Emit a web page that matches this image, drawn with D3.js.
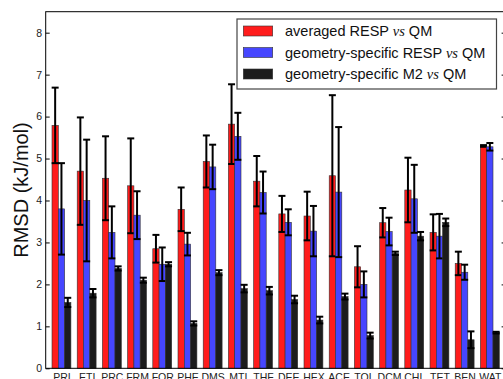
<!DOCTYPE html>
<html>
<head>
<meta charset="utf-8">
<script src="https://cdn.jsdelivr.net/npm/d3@7"></script>
<style>
  html, body { margin: 0; padding: 0; background: #fff; overflow: hidden; }
  svg { display: block; font-family: "Liberation Sans", Arial, sans-serif; }
</style>
</head>
<body>
<svg id="chart" width="503" height="379"></svg>
<script>
// Molecules on the x axis
const categories = ["PRI", "ETI", "PRC", "FRM", "FOR", "PHE", "DMS", "MTI", "THF",
                    "DEE", "HEX", "ACE", "TOL", "DCM", "CHL", "TET", "BEN", "WAT"];

// RMSD (kJ/mol) and standard deviations for each charge model
const avgResp    = [5.79, 4.70, 4.53, 4.35, 2.85, 3.79, 4.93, 5.82, 4.46,
                    3.68, 3.63, 4.59, 2.42, 3.47, 4.25, 3.24, 2.50, 5.30];
const avgRespErr = [0.90, 1.28, 1.00, 1.13, 0.33, 0.52, 0.62, 0.95, 0.60,
                    0.43, 0.58, 1.92, 0.49, 0.35, 0.77, 0.43, 0.28, 0.02];

const geoResp    = [3.80, 4.00, 3.24, 3.65, 2.48, 2.96, 4.80, 5.53, 4.19,
                    3.48, 3.27, 4.20, 2.00, 3.26, 4.04, 3.15, 2.29, 5.28];
const geoRespErr = [1.09, 1.45, 0.62, 0.57, 0.40, 0.27, 0.53, 0.56, 0.50,
                    0.31, 0.60, 1.55, 0.31, 0.33, 0.81, 0.53, 0.18, 0.09];

const geoM2      = [1.57, 1.79, 2.38, 2.10, 2.48, 1.07, 2.28, 1.90, 1.85,
                    1.64, 1.15, 1.71, 0.78, 2.74, 3.15, 3.48, 0.68, 0.85];
const geoM2Err   = [0.11, 0.10, 0.05, 0.06, 0.05, 0.05, 0.06, 0.09, 0.09,
                    0.09, 0.08, 0.07, 0.07, 0.04, 0.10, 0.09, 0.20, 0.02];

const yTicks = [0, 1, 2, 3, 4, 5, 6, 7, 8];

const seriesNames = ["averaged RESP", "geometry-specific RESP", "geometry-specific M2"];
const seriesColors = ["#ff1c1c", "#4646ff", "#1c1c1c"];

const series = [
  { name: seriesNames[0], color: seriesColors[0], values: avgResp, errors: avgRespErr },
  { name: seriesNames[1], color: seriesColors[1], values: geoResp, errors: geoRespErr },
  { name: seriesNames[2], color: seriesColors[2], values: geoM2,   errors: geoM2Err }
];

const svg = d3.select("#chart");

const plot = { left: 45.7, right: 505.6, top: 11.7, bottom: 368.3 };
const barW = 0.25;

const x = d3.scaleLinear().domain([-0.25, categories.length]).range([plot.left, plot.right]);
const y = d3.scaleLinear().domain([0, 8.5]).range([plot.bottom, plot.top]);

// Bars and error bars, one series at a time
series.forEach((s, k) => {
  const g = svg.append("g");
  g.selectAll("rect")
    .data(s.values)
    .join("rect")
    .attr("x", (d, i) => x(i + k * barW))
    .attr("width", (d, i) => x(i + (k + 1) * barW) - x(i + k * barW))
    .attr("y", d => y(d))
    .attr("height", d => y(0) - y(d))
    .attr("fill", s.color)
    .attr("stroke", "#333")
    .attr("stroke-width", 0.6);

  const eg = g.append("g").attr("stroke", "#000").attr("stroke-width", 2);
  s.values.forEach((v, i) => {
    const cx = x(i + (k + 0.5) * barW);
    const e = s.errors[i];
    const y1 = y(v + e), y2 = y(v - e);
    eg.append("line").attr("x1", cx).attr("x2", cx).attr("y1", y1).attr("y2", y2);
    eg.append("line").attr("x1", cx - 3.5).attr("x2", cx + 3.5).attr("y1", y1).attr("y2", y1);
    eg.append("line").attr("x1", cx - 3.5).attr("x2", cx + 3.5).attr("y1", y2).attr("y2", y2);
  });
});

// Axes
const leftAxis = d3.axisLeft(y).tickValues(yTicks).tickFormat(d3.format("d"))
  .tickSizeInner(-4).tickSizeOuter(0).tickPadding(3.5);
const gl = svg.append("g").attr("transform", `translate(${plot.left},0)`).call(leftAxis);
gl.select(".domain").remove();
gl.selectAll("text").attr("font-size", 10.5).attr("fill", "#222")
  .attr("font-family", "'Liberation Sans', Arial, sans-serif");

const rightAxis = d3.axisRight(y).tickValues(yTicks).tickFormat("")
  .tickSizeInner(-4).tickSizeOuter(0);
const gr = svg.append("g").attr("transform", `translate(${plot.right},0)`).call(rightAxis);
gr.select(".domain").remove();

const bottomAxis = d3.axisBottom(x)
  .tickValues(categories.map((c, i) => i + 1.5 * barW))
  .tickFormat((d, i) => categories[i])
  .tickSize(0).tickPadding(5.7);
const gb = svg.append("g").attr("transform", `translate(0,${plot.bottom})`).call(bottomAxis);
gb.select(".domain").remove();
gb.selectAll("text").attr("font-size", 10.5).attr("fill", "#222")
  .attr("font-family", "'Liberation Sans', Arial, sans-serif");

// Frame
svg.append("rect")
  .attr("x", plot.left).attr("y", plot.top)
  .attr("width", plot.right - plot.left).attr("height", plot.bottom - plot.top)
  .attr("fill", "none").attr("stroke", "#000").attr("stroke-width", 1);

// Y axis title
svg.append("text")
  .attr("transform", `translate(28,${(plot.top + plot.bottom) / 2}) rotate(-90)`)
  .attr("text-anchor", "middle")
  .attr("font-size", 20)
  .attr("fill", "#111")
  .text("RMSD (kJ/mol)");

// Legend
const legend = svg.append("g");
legend.append("rect")
  .attr("x", 237).attr("y", 19).attr("width", 259.5).attr("height", 70)
  .attr("fill", "#fff").attr("stroke", "#444").attr("stroke-width", 1.2);

const rowY = [31, 52.5, 74];
series.forEach((s, k) => {
  legend.append("rect")
    .attr("x", 243.3).attr("y", rowY[k] - 5).attr("width", 29.4).attr("height", 10)
    .attr("fill", s.color).attr("stroke", "#333").attr("stroke-width", 0.6);
  const t = legend.append("text")
    .attr("x", 285).attr("y", rowY[k] + 5.2)
    .attr("font-size", 14.5).attr("fill", "#111");
  t.append("tspan").text(s.name + " ");
  t.append("tspan").attr("font-family", "'Liberation Serif', 'DejaVu Serif', serif")
    .attr("font-style", "italic").text("vs");
  t.append("tspan").text(" QM");
});
</script>
</body>
</html>
